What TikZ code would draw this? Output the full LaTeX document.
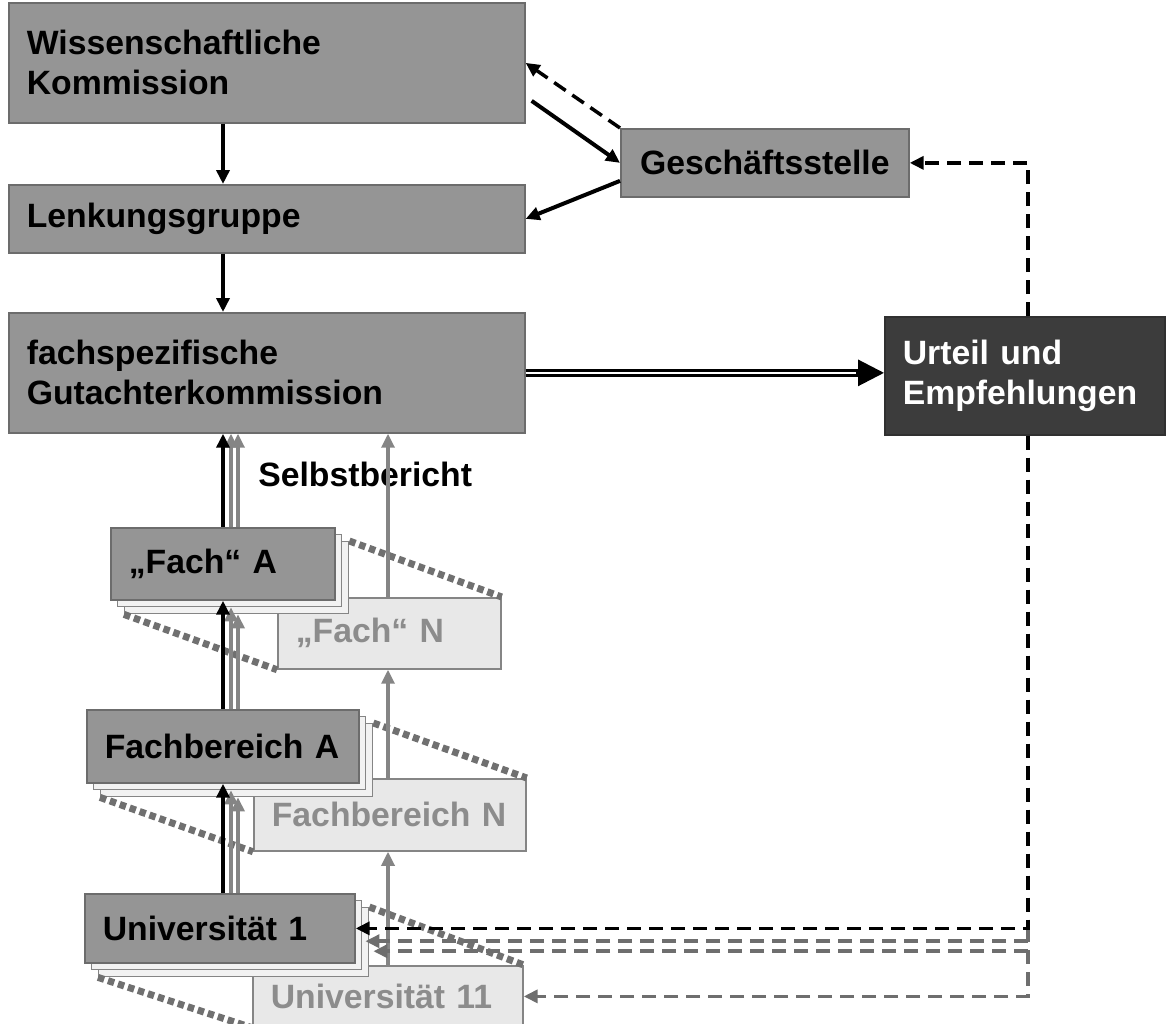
\documentclass[tikz,border=0pt]{standalone}
\usepackage{fontspec}
\setmainfont{Liberation Sans}
\usepackage{tikz}
\usetikzlibrary{arrows.meta, calc, positioning}
\definecolor{boxgray}{HTML}{959595}
\definecolor{boxline}{HTML}{6C6C6C}
\definecolor{palefill}{HTML}{E8E8E8}
\definecolor{paleline}{HTML}{858585}
\definecolor{paletext}{HTML}{8C8C8C}
\definecolor{layerfill}{HTML}{F2F2F2}
\definecolor{verdictfill}{HTML}{3C3C3C}
\definecolor{dotgray}{HTML}{707070}
\definecolor{arrgray}{HTML}{858585}
\definecolor{dashgray}{HTML}{6E6E6E}
\newcommand{\diagfont}{\fontsize{19.2pt}{22.76pt}\selectfont\bfseries}
\tikzset{
  orgbox/.style   = {draw=boxline, fill=boxgray, line width=1pt, anchor=north west,
                     inner xsep=0.36cm, inner ysep=0pt, align=left, font=\diagfont},
  palebox/.style  = {orgbox, draw=paleline, fill=palefill, text=paletext},
  verdict/.style  = {orgbox, fill=verdictfill, draw=verdictfill!80!black, text=white},
  layerbox/.style = {draw=paleline, fill=layerfill, line width=0.8pt,
                     anchor=north west, inner sep=0pt},
  flow/.style     = {-{Triangle[length=0.28cm, width=0.26cm]}, line width=0.08cm},
  flowgray/.style = {flow, draw=arrgray, line width=0.065cm},
  dashk/.style    = {flow, line width=0.07cm, dash pattern=on 0.28cm off 0.16cm},
  dashg/.style    = {dashk, draw=dashgray},
  persp/.style    = {draw=dotgray, line width=0.14cm, dash pattern=on 0.13cm off 0.08cm},
  dblline/.style  = {double=white, double distance=0.045cm, line width=0.06cm},
}

\begin{document}
\begin{tikzpicture}[x=0.02cm, y=-0.02cm]
  \clip (0,0) rectangle (1166,1024);
  \coordinate (cA) at (223,0);
  \coordinate (cB) at (231,0);
  \coordinate (cC) at (238,0);
  \coordinate (cN) at (388,0);
  \coordinate (cR) at (1028,0);

  \node[orgbox, text width=9.6cm, minimum height=2.4cm] (wiss) at (8,2) {Wissenschaftliche\\Kommission};
  \node[orgbox, text width=9.6cm, minimum height=1.36cm] (lenk) at (8,184) {Lenkungsgruppe};
  \node[orgbox, text width=9.6cm, minimum height=2.4cm] (gut) at (8,312) {fachspezifische\\Gutachterkommission};
  \node[orgbox, text width=5.04cm, minimum height=1.36cm, align=center] (gst) at (620,128) {Geschäftsstelle};
  \node[verdict, text width=4.88cm, minimum height=2.36cm] (urt) at (884,316) {Urteil und\\Empfehlungen};

  \node[palebox, text width=3.74cm, minimum height=1.42cm] (fachn) at (277,597) {„Fach“ N};
  \node[palebox, text width=4.72cm, minimum height=1.44cm] (fbn) at (253,778) {Fachbereich N};
  \node[palebox, text width=4.68cm, minimum height=1.22cm] (unin) at (252,965) {Universität 11};

  \node[layerbox, minimum width=4.48cm, minimum height=1.44cm] (facha2) at (124,541) {};
  \node[layerbox, minimum width=4.48cm, minimum height=1.44cm] (facha1) at (117,534) {};
  \node[orgbox, text width=3.76cm, minimum height=1.44cm] (facha) at (110,527) {„Fach“ A};
  \node[layerbox, minimum width=5.44cm, minimum height=1.46cm] (fba2) at (100,723) {};
  \node[layerbox, minimum width=5.44cm, minimum height=1.46cm] (fba1) at (93,716) {};
  \node[orgbox, text width=4.72cm, minimum height=1.46cm] (fba) at (86,709) {Fachbereich A};
  \node[layerbox, minimum width=5.4cm, minimum height=1.38cm] (unia2) at (98,907) {};
  \node[layerbox, minimum width=5.4cm, minimum height=1.38cm] (unia1) at (91,900) {};
  \node[orgbox, text width=4.68cm, minimum height=1.38cm] (unia) at (84,893) {Universität 1};

  \node[font=\diagfont, anchor=base west, inner sep=0pt] (selbst) at (258,486) {Selbstbericht};

  \draw[persp] (facha2.north east) -- (fachn.north east);
  \draw[persp] (facha2.south west) -- (fachn.south west);
  \draw[persp] (fba2.north east) -- (fbn.north east);
  \draw[persp] (fba2.south west) -- (fbn.south west);
  \draw[persp] (unia2.north east) -- (unin.north east);
  \draw[persp] (unia2.south west) -- (unin.south west);

  \draw[flowgray] (facha.north -| cB) -- (gut.south -| cB);
  \draw[flowgray] (facha.north -| cC) -- (gut.south -| cC);
  \draw[flowgray] (fba.north -| cB) -- (facha1.south -| cB);
  \draw[flowgray] (fba.north -| cC) -- (facha2.south -| cC);
  \draw[flowgray] (unia.north -| cB) -- (fba1.south -| cB);
  \draw[flowgray] (unia.north -| cC) -- (fba2.south -| cC);
  \draw[flowgray] (fachn.north -| cN) -- (gut.south -| cN);
  \draw[flowgray] (fbn.north -| cN) -- (fachn.south -| cN);
  \draw[flowgray] (unin.north -| cN) -- (fbn.south -| cN);

  \draw[flow] (wiss.south -| cA) -- (lenk.north -| cA);
  \draw[flow] (lenk.south -| cA) -- (gut.north -| cA);
  \draw[flow] (facha.north -| cA) -- (gut.south -| cA);
  \draw[flow] (fba.north -| cA) -- (facha.south -| cA);
  \draw[flow] (unia.north -| cA) -- (fba.south -| cA);

  \draw[dashk] (gst.north west) -- (wiss.east);
  \draw[flow] ($(wiss.east)+(6,38)$) -- (gst.west);
  \draw[flow] ($(gst.west)+(0,18)$) -- (lenk.east);

  \draw[dblline, shorten >=0.5cm] (gut.east) -- (gut.east -| urt.west);
  \draw[-{Triangle[length=0.52cm, width=0.52cm]}, line width=0.06cm]
    ($(gut.east -| urt.west)+(-28,0)$) -- (gut.east -| urt.west);

  \coordinate (u1in) at ($(unia1.east)+(3,6)$);
  \coordinate (u2in) at ($(unia2.east)+(4,9)$);
  \draw[dashg] (unia.east -| cR) |- (unin.east);
  \draw[dashg] (u1in -| cR) -- (u1in);
  \draw[dashg] (u2in -| cR) -- (u2in);
  \draw[dashk] (urt.north -| cR) |- (gst.east);
  \draw[dashk] (urt.south -| cR) |- (unia.east);
\end{tikzpicture}
\end{document}
